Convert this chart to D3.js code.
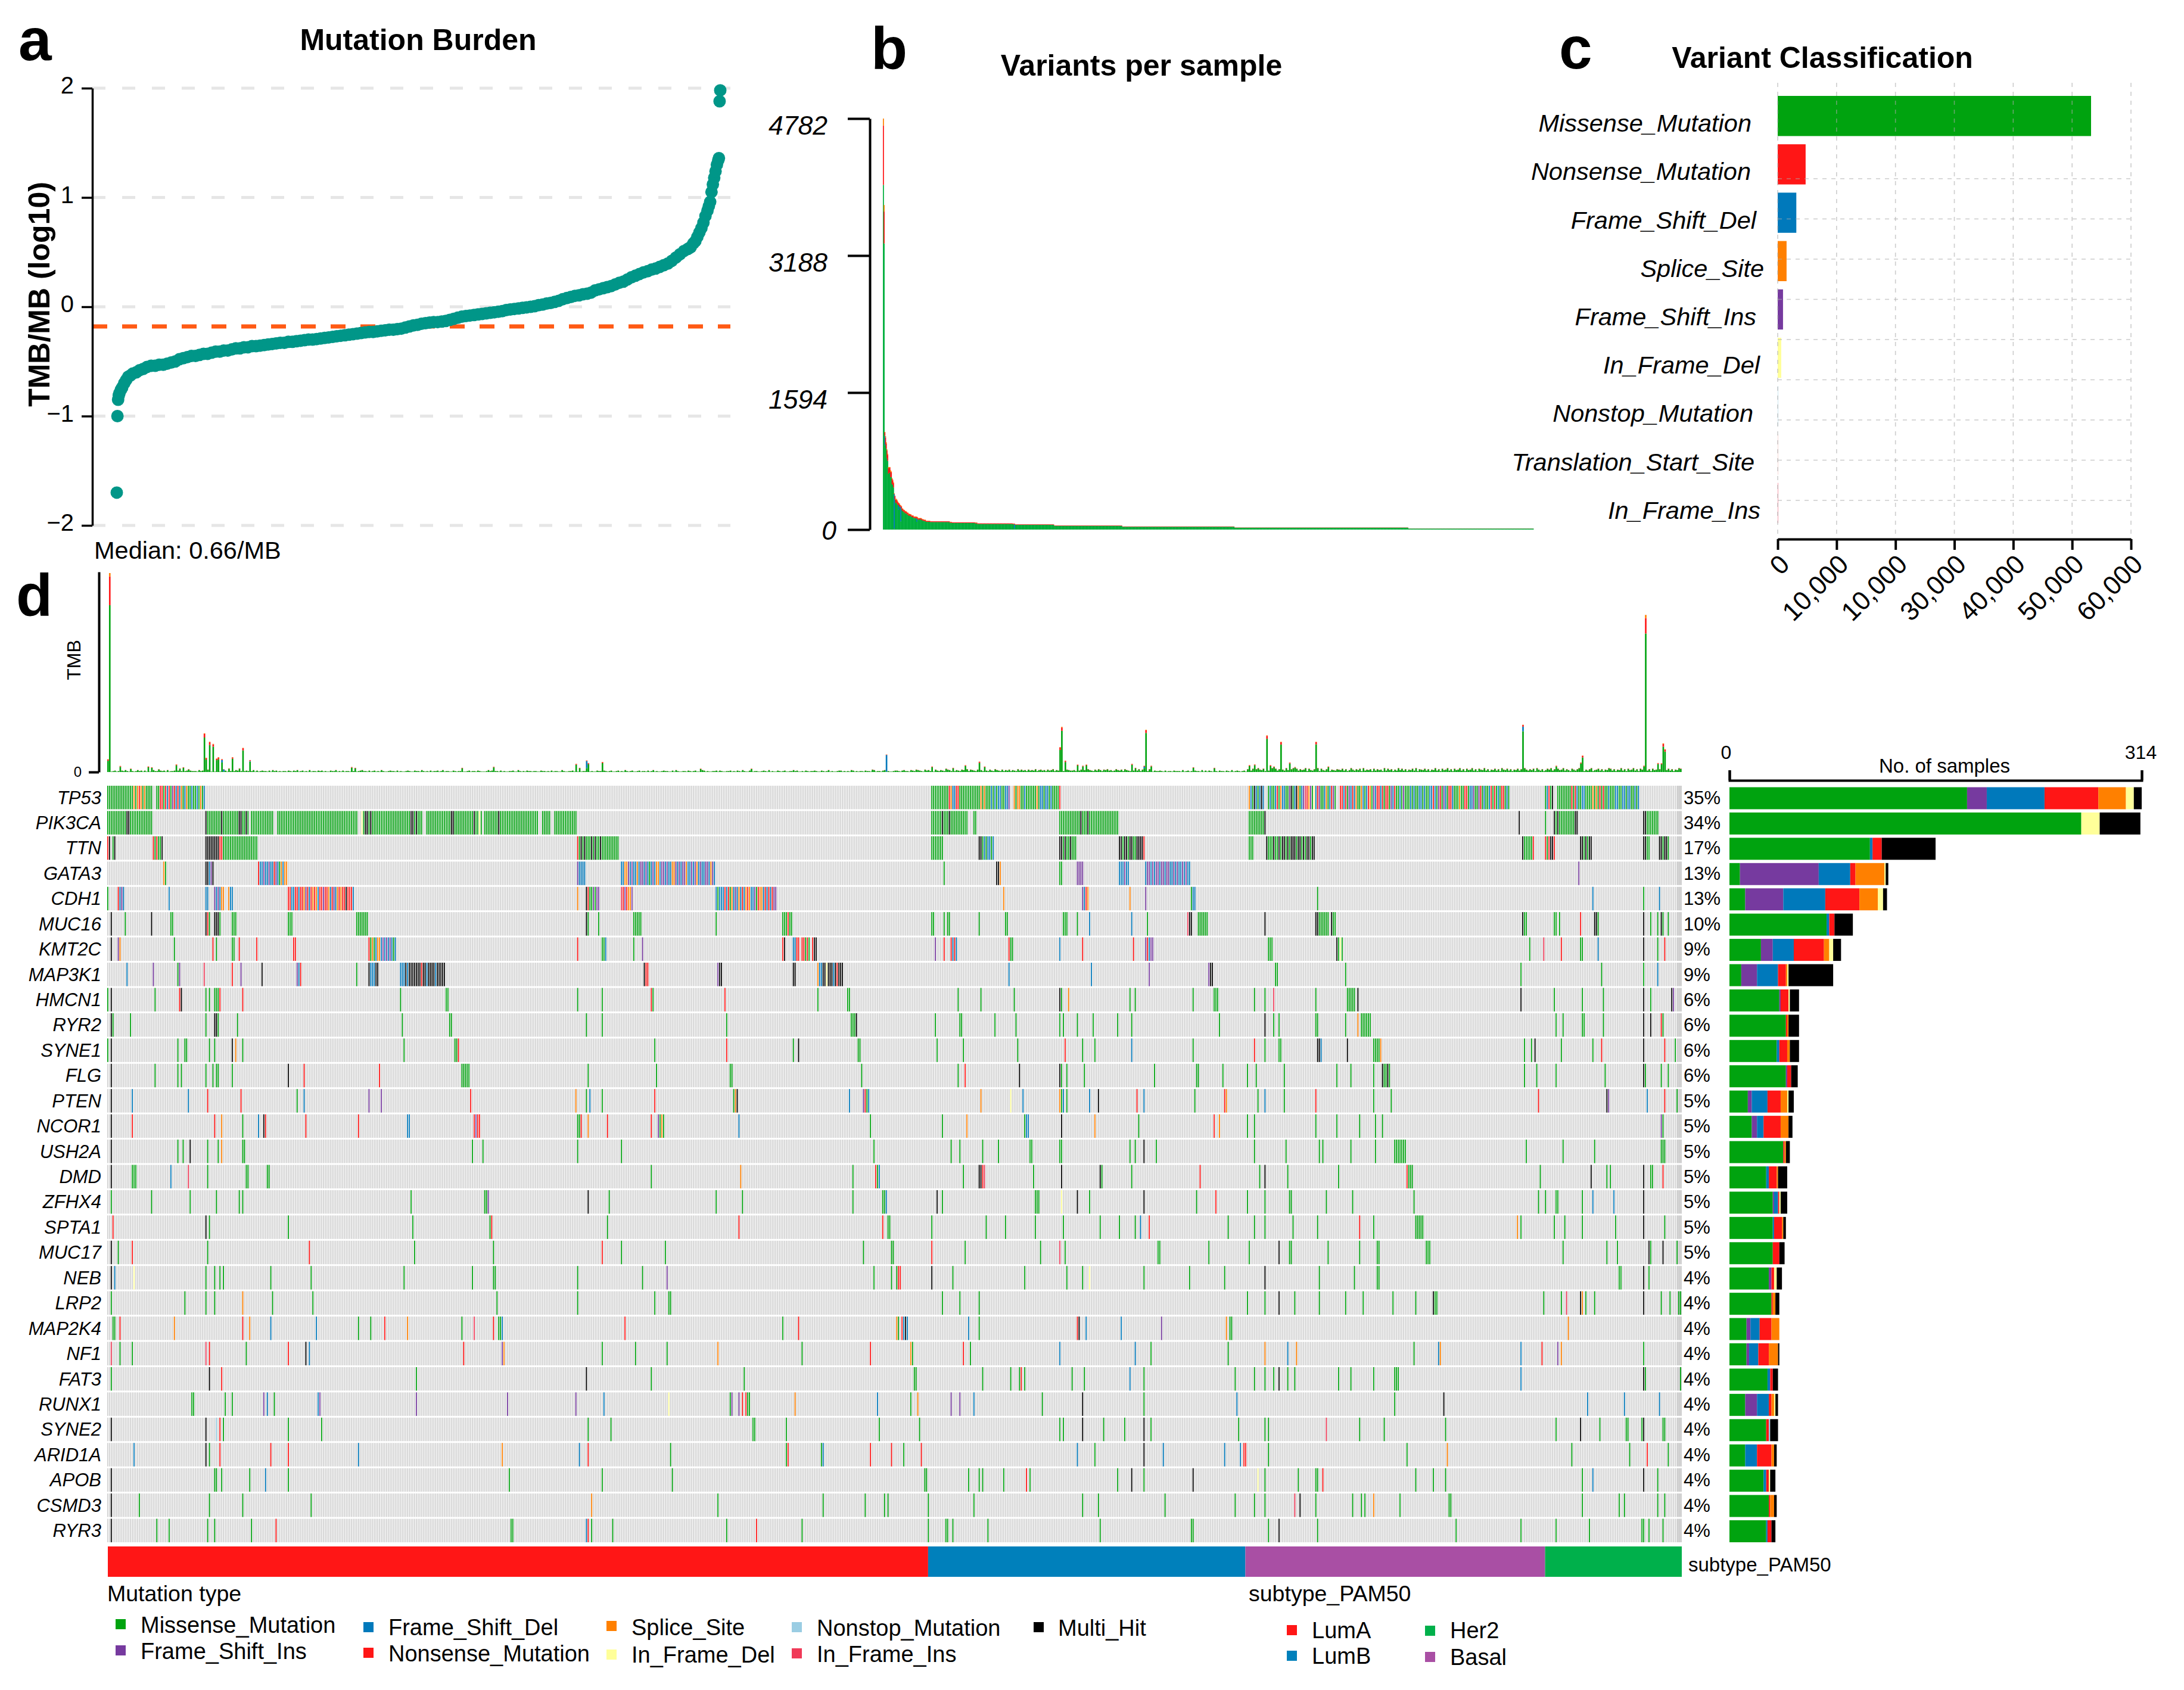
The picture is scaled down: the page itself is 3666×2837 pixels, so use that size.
<!DOCTYPE html>
<html>
<head>
<meta charset="utf-8">
<script src="https://cdn.jsdelivr.net/npm/d3@7"></script>
<style>
  body { margin: 0; background: #fff; }
  text { font-family: "Liberation Sans", Arial, sans-serif; fill: #000; }
</style>
</head>
<body>
<div id="Area"></div>
<script>
// panel a, sorted TMB (rank, log10 value)
var tmbRank = [1,2,3,4,5,7,9,12,15,18,21,25,30,35,40,46,52,58,64,70,76,82,88,94,100,106,112,118,124,130,136,142,148,154,160,166,172,178,184,190,196,202,208,214,220,226,232,238,244,250,256,262,268,274,280,286,292,298,304,310,316,322,328,334,340,346,352,358,364,370,376,382,388,394,400,406,412,418,424,430,436,442,448,454,460,466,472,478,484,490,496,502,508,514,520,526,532,538,544,550,556,562,568,574,580,586,592,598,604,610,616,622,628,634,640,646,652,658,664,670,676,682,688,694,700,706,712,718,724,730,736,742,748,754,760,766,772,778,784,790,796,802,808,814,820,826,832,838,844,850,854,858,861,864,867,870,873,876,879,881,883,885,887,889,891,893,895,896,897,898];
var tmbLog = [-1.70,-1.00,-.85,-.81,-.79,-.76,-.74,-.70,-.67,-.64,-.63,-.61,-.60,-.58,-.57,-.55,-.54,-.54,-.53,-.53,-.52,-.51,-.50,-.48,-.47,-.46,-.45,-.45,-.44,-.43,-.43,-.42,-.41,-.41,-.40,-.40,-.39,-.38,-.38,-.37,-.37,-.36,-.36,-.355,-.35,-.345,-.34,-.335,-.33,-.33,-.32,-.32,-.315,-.31,-.305,-.30,-.30,-.295,-.29,-.285,-.28,-.275,-.27,-.265,-.26,-.255,-.25,-.245,-.24,-.235,-.23,-.23,-.225,-.22,-.215,-.21,-.21,-.205,-.20,-.19,-.18,-.17,-.165,-.155,-.15,-.145,-.14,-.14,-.135,-.13,-.12,-.11,-.10,-.09,-.085,-.08,-.075,-.07,-.065,-.06,-.055,-.05,-.045,-.04,-.03,-.025,-.02,-.015,-.01,-.005,0,.005,.015,.02,.03,.035,.045,.055,.07,.08,.09,.10,.105,.115,.12,.13,.15,.16,.17,.18,.19,.205,.22,.23,.25,.27,.285,.30,.315,.325,.34,.35,.365,.38,.395,.42,.45,.48,.51,.53,.545,.58,.60,.64,.68,.72,.77,.83,.88,.92,.96,1.05,1.12,1.18,1.24,1.30,1.34,1.36,1.88,1.98];
var tmbMedian = -0.18;
var tmbTicks = [-2, -1, 0, 1, 2];

// panel b axis
var variantTicks = [0, 1594, 3188, 4782];

// panel c
var classNames = ["Missense_Mutation","Nonsense_Mutation","Frame_Shift_Del","Splice_Site","Frame_Shift_Ins","In_Frame_Del","Nonstop_Mutation","Translation_Start_Site","In_Frame_Ins"];
var classValues = [53220, 4742, 3162, 1506, 903, 602, 60, 50, 40];
var classCodes = ["M","N","D","S","I","E","T","X","F"];
var classTickValues = [0, 10000, 20000, 30000, 40000, 50000, 60000];
var classTickLabels = ["0","10,000","10,000","30,000","40,000","50,000","60,000"];

// panel d, genes and side bars
var genes = ["TP53","PIK3CA","TTN","GATA3","CDH1","MUC16","KMT2C","MAP3K1","HMCN1","RYR2","SYNE1","FLG","PTEN","NCOR1","USH2A","DMD","ZFHX4","SPTA1","MUC17","NEB","LRP2","MAP2K4","NF1","FAT3","RUNX1","SYNE2","ARID1A","APOB","CSMD3","RYR3"];
var genePct = ["35%","34%","17%","13%","13%","10%","9%","9%","6%","6%","6%","6%","5%","5%","5%","5%","5%","5%","5%","4%","4%","4%","4%","4%","4%","4%","4%","4%","4%","4%"];
var barM = [181,268,107,8,12,74,24,9,38,43,36,43,14,17,41,28,33,33,33,30,32,13,13,29,12,28,12,26,30,28];
var barI = [15,0,0,60,29,0,9,12,1,0,0,1,3,4,0,0,1,0,0,2,0,3,2,0,9,0,0,0,0,0];
var barD = [44,0,2,24,32,2,16,16,0,0,2,0,12,5,0,2,3,1,0,0,0,7,7,2,9,0,9,2,0,1];
var barN = [41,0,7,4,26,4,23,6,6,1,6,3,10,13,1,6,1,6,5,2,1,9,8,2,2,2,11,2,1,3];
var barS = [21,0,0,22,14,0,4,1,0,1,2,0,5,6,1,1,0,1,0,0,2,6,7,0,2,0,2,0,3,0];
var barE = [6,14,0,1,4,0,3,1,1,0,0,0,1,0,0,0,1,0,0,2,0,0,0,0,1,0,0,1,0,0];
var barT = [0,0,0,0,0,0,0,0,0,0,0,0,0,0,0,0,0,0,0,0,0,0,0,0,0,1,0,0,0,0];
var barH = [6,31,41,2,3,14,6,34,7,8,7,5,4,3,3,7,5,2,4,4,3,0,1,4,2,6,2,4,2,3];

// oncoplot cells: start column followed by the mutation code of each consecutive column
var cellsTP53 = "0MMMMMMMMMMMMMMMSMSNSMSMMMM 28MM 30NNMNDNMINDN 41DSMDSMMDMMDMSMD 470MMMMMMMMMMNSDDNNMMMMMMMMMMMMSMSMMMDMDMDDMMDDI 517SMSSMMDMMMMMMSMDDMDDMDMMMMN 651SDMHDMDHD 662MDMMDNMSDDMMIHMDHSMDIFNSIMEDNIMMDSMDNIM 703NNDNMIDNDSMMSDMDNSMIDNNDNMNNMIDNMMDMIMMMDMDMMDDMDMMDDNDMINMIDMNNDMMMSMMNNMDDIMMINMDMMDNMNMDMNNMDM 820MDNMH 827MMMMMMMMNMNDMMDDMMMMSMSMNMNMMDMMMDDMMDDMDDMMDMD";
var cellsPIK3CA = "0MMMMMMMMMMMHHMMMMMMMMMMMMM 56HMMMMMMMMHMMMMMMMMMHHMMHM 82MMMMMMMMMMMMM 97MMMMMMMMMMMMMMMMMMMMMMMMMMMMMMMMMMMMMMMMMMMMMM 145EMHHMHMMMMMMMMMMMMMMMMMMMMMMHHMHMMM 182MMMMMMMMMMMMMMHHMMMMMMMMMMMHMMEM 215MMMMMMMMHMMMMMMMMMMMMMMMMMMMMMM 248MMMMM 255MMMMMMMMMMMMM 470MMMMMMHMMMHMMMMMMMMMM 494MM 543MMMMMMMMMMMMHMMMHMMMMMMMMMMMMMMMMM 651MMMMMMMMMH 805H 820M 825HMHMMMMMMMMMHH 876HHMMMMMMM";
var cellsTTN = "0NH 3MH 26NMNMMH 56HHHHHHHHN 65NMMMMMMMMMMMMMMMMMMMM 268NMHMHMMMHMHMMHMMMMMMMMMM 470MMMMMMM 497HHMDMDDMD 543HHMHMMHMMM 577HHMHHMHHMMHHHHN 651MMM 661HMMMHMMHMHHMHMHHHMHHMHMHHMHH 807HMMMMMN 820NMNHHN 840HHMHMHH 876HHMM 885HHMHHM";
var cellsGATA3 = "32SM 56HHDIH 86NDDIDDIDDNIDMSDSS 268IDDDD 293DDSSIDIDDSDIIDIDMDIDSSDIIDIDDSSIDIDIISDDIDISDIDDIIDSID 477M 507HHS 543MM 553IIII 577DDDIDD 592DIIDIDIIDIIDIIDDIDIDDIDIDD 839I";
var cellsCDH1 = "0M 6NDID 35D 56DD 61IDIDSS 69SDD 103NNDDNNDNNSINDNSNSDNNINNSDNIDSNSNNHNNND 268S 273HNMMIMII 293FNINSSI 347DMDDDNDNMSDIDSDNDSNSDDIMNSSDNDNDNII 511S 556IDNS 583S 592I 618MDD 690M 847D 876M 885D";
var cellsMUC16 = "2H 10M 25H 36MM 56HNM 61HHHM 71MMM 103MMM 142MMMMMMM 273HM 280M 300MMMMM 347M 385MMMN 389MM 470MM 477M 479MM 497M 512MM 545MMM 553M 560D 584D 593M 616FHH 622MMMMMM 660H 689HHMMMMMM 698HMM 807HMM 825MM 828M 840N 848HHM 876H 880M 884M 886HM 890M";
var cellsKMT2C = "2H 6IS 38M 60N 62M 71MM 75N 85N 106NN 149NMSMDSSDIDIDIDMD 268N 282MMD 300M 305I 385NH 391DD 393NN 396NN 398MNM 402NHH 472I 477N 481NDND 514NMM 543D 556N 585N 592INDII 662MMM 701HMEM 811M 819F 829N 840MM 850D 876H 884M 888N";
var cellsMAP3K1 = "11D 26I 40MI 55F 71N 76I 88H 108IDN 142M 149HDDDHH 167DDDHD 172HHHHHHHNHHDHHHHDHHHHH 306HNN 348IHH 391HH 405SDDHHEHHHDHNHHH 514D 561D 594I 628IHH 666MM 706M 806M 852M 876M 884D";
var cellsHMCN1 = "0M 2H 27M 41NH 56M 58M 61MMMN 77N 167M 193MM 268M 282M 310NM 352N 405M 422MM 485M 498M 517M 543HM 548S 583M 586M 619M 631MMM 654M 660M 665F 689M 707MMMMM 713H 806H 825M 841M 853M 876H 880M 892HI";
var cellsRYR2 = "2HM 13M 56M 61HHM 74M 168M 195MM 273M 282M 353M 424MMMH 472M 486MM 506M 518M 543M 545M 553M 562M 576M 584M 634M 660H 665M 668M 689MM 706M 713S 715MMMMMM 826M 830M 841MM 853M 876H 880H 886NM";
var cellsSYNE1 = "0M 2H 40M 44MM 58M 61M 71H 73S 77M 169M 198MMN 312M 353N 391M 394H 428MM 473M 488M 519M 546N 556M 563M 584D 619M 654N 660M 668MM 690HHD 707H 722MMMMS 808M 812M 814H 829M 847M 852N 876H 888N 894M";
var cellsFLG = "2H 27M 40M 42M 56M 60M 62MM 71M 103H 112N 155N 202MMMMM 274M 313M 355MM 430M 485M 489N 520H 543HM 547M 557M 597M 621MM 636M 650M 655M 671M 701M 709M 722M 727HMMHM 808M 815M 826M 854M 876HM 886M 890M";
var cellsPTEN = "2H 14D 46D 57N 76N 108M 112D 149I 156I 207N 267S 273M 275D 282M 312N 357MSH 423D 431INMD 498S 515E 522D 543SMD 547M 560D 565H 587N 591D 620M 637NS 656M 660D 671M 689N 722M 732M 816N 855HI 878D 888N 895M";
var cellsNCOR1 = "2H 14N 61N 65S 77M 86D 89HN 113N 143N 171DD 209NINN 268MMN 274S 285N 310N 314IMSM 360D 435M 476M 490S 523MDD 544H 563S 588M 631N 634S 650M 654M 689M 701M 714M 723M 727M 886IM";
var cellsUSH2A = "2H 40M 43M 47H 57M 63M 65S 77MM 208M 214M 268M 293M 437M 481M 486M 499M 508M 526MM 543MM 583M 586M 591H 598M 654M 672M 691M 693M 709M 723M 734MMMMMMM 809M 830M 848M 886MMM";
var cellsDMD = "2H 14MMM 36D 46F 57M 79MM 91MM 310M 361S 425M 438NMD 488M 497HHNF 528M 544H 566HM 584M 623N 657M 660H 673M 702M 741NMMM 817M 846H 855M 857M 876H 880MM 887N";
var cellsZFHX4 = "2M 25M 47M 62M 75M 77M 173M 215MMI 274H 286M 347M 362M 425M 442MMD 473H 476M 529MMM 544E 553H 560M 591H 621M 632N 650M 660M 674MM 695M 710M 745M 816M 820M 826MM 841M 847D 859D 876H";
var cellsSPTA1 = "3N 56H 58M 103M 174M 218MN 285M 360N 442N 445MM 470M 501M 512M 529M 545M 566M 577M 586M 589D 594N 639M 654M 660M 676M 690M 714N 722M 746MMMMM 804S 806M 825M 831M 841M 860M 876H 888M";
var cellsMUC17 = "2H 6M 14N 57M 115N 175M 220M 282N 293M 318M 431M 447MM 470N 489M 532M 543F 546M 599MM 628M 651M 668H 674MM 696M 714M 724MM 752MMM 830M 855M 861M 879HM 887H 895M";
var cellsNEB = "2H 4D 15E 56M 61M 64M 66M 93M 116M 169M 208M 220MM 268M 305M 319I 437M 447M 450MNN 470H 482M 523M 547M 556M 560E 591M 617M 637M 660H 691M 711M 724MM 862MM 876H 879M";
var cellsLRP2 = "2M 44M 56M 61M 77S 94M 117M 222M 268M 312M 320MM 476M 486M 497M 650M 660M 668H 677M 691M 706M 716M 733M 746M 756HMM 819M 829M 832F 840HS 843M 848M 876H 886M 891M 896MM";
var cellsMAP2K4 = "3MM 7N 38S 77N 81S 93D 119D 143M 150M 158N 171S 202M 209F 220N 223MMD 295N 385M 394N 450SM 453NDHD 491D 497M 553NH 558D 578D 601I 638S 640MM 833S";
var cellsNF1 = "2F 7M 14M 56F 58N 79M 103N 113H 115D 203N 225IS 282M 301M 319M 348S 396M 435N 458SM 488N 492M 543D 586D 595M 639M 660S 673D 678S 745M 759DS 806D 818N 827I 829S 876M";
var cellsFAT3 = "2M 58H 65N 176M 273H 310M 363M 460MM 499M 515M 520MN 523M 550M 557M 583D 591M 643M 654M 660M 665M 668H 673M 677M 702M 709M 722M 734MMM 806D 876HM 897M";
var cellsRUNX1 = "48MM 67M 71M 89I 91D 95M 120DI 176I 228I 267I 283D 320E 355MI 360I 362N 364NMM 392S 439D 458M 462S 481I 486I 494D 533M 556H 591M 644D 734M 762H 844D 865D 885D";
var cellsSYNE2 = "2H 56H 62T 64N 66M 103M 122M 274M 287M 368MM 387M 440M 463M 543M 545M 556H 568M 580M 591H 595M 645M 660M 662M 695F 714M 728M 763M 826M 840H 851M 866MM 875MH 887MM";
var cellsARID1A = "15D 56H 58M 64N 93N 103N 143D 225S 269D 274N 321M 387MN 407MD 435N 447N 454M 464N 553D 563M 591H 602D 637D 646D 648NN 662M 741M 764S 835M 868M 878N 890M";
var cellsAPOB = "2H 61MM 65M 81M 90D 103M 229M 282M 322M 466MM 491M 497M 499M 511M 524N 526M 576M 584H 591M 619H 656E 660M 679M 689MM 693N 746M 756M 763M 841M 847D 876H 884M";
var cellsCSMD3 = "2H 18M 58M 77M 116M 276S 348M 408M 432M 443M 445M 468M 494M 556M 565M 603M 643M 654M 660M 677F 680H 689M 710M 715M 717M 722S 737M 765MM 841M 862M 865M 884M 888M";
var cellsRYR3 = "2H 28M 35M 57M 61M 82M 96N 230MM 273DN 276M 288M 353M 370N 396M 468M 478MM 482M 502M 566M 618MM 662M 668H 690M 769M 806M 826M 845M 875MM 879M 887M";

// TMB bar per column: low bars as digits in units of 12 variants, tall ones listed below
var tmbLow = "32123121324213212423131211422132314122313121231322" +
  "21423135213142122313212431212321241312322131423121" +
  "22132132412312141221323121132241213122132112342213" +
  "12312142112322131211232113221421213122312412211321" +
  "22311231221321112423122131211223114212132212211322" +
  "12131221142112231213122141211322132123112312142123" +
  "11231221312412112322113142112213212311243121122313" +
  "21122312132142113212211232141211321231122423112132" +
  "12232113212412112331212143121221322154122134121123" +
  "32134221432543215342615324327542324325436254325342" +
  "43253264325243524326353425343624534253462435326543" +
  "34263534264325364254634236435264325343625342641322" +
  "32131221322214123121322141313212213221321412321231" +
  "65374685472536847362538436827364582743658274368254" +
  "36547362485364728354627364528374625384736254738265" +
  "47362548362745836274583627458362754836254736285473" +
  "62547362853647285362475836274583642753684725368245" +
  "736254873625483627458362754836274536285473625487";
var spikeCol = [0,1,7,13,23,25,29,39,41,43,46,55,56,58,60,62,63,65,66,69,71,75,77,81,139,141,202,220,267,269,273,274,282,338,367,444,470,482,489,497,500,543,544,546,553,556,558,584,586,591,592,595,619,631,651,654,661,663,665,669,674,677,689,696,807,826,840,841,876,877,884,886,887,888];
var spikeM = [270,4010,125,72,115,100,62,160,80,100,60,830,300,650,610,285,310,230,12,80,320,80,520,250,105,90,90,112,175,90,95,190,215,72,72,10,118,90,148,220,118,530,990,240,158,135,158,175,90,90,940,135,100,90,145,165,800,145,118,660,205,108,665,118,980,135,205,350,135,3329,192,185,610,490];
var spikeD = [0,0,0,0,0,0,0,0,0,0,0,0,0,0,0,0,0,60,50,0,0,0,0,15,0,0,0,0,0,0,170,0,0,0,0,400,0,0,0,0,0,0,0,0,0,0,0,0,0,40,0,0,0,0,0,0,0,0,0,0,0,0,0,0,110,0,0,0,0,0,0,0,0,0];
var spikeN = [30,690,15,8,14,12,6,18,8,12,8,90,35,65,55,33,38,18,6,8,30,8,52,20,12,10,10,12,18,10,11,22,22,8,8,8,12,10,14,25,13,60,80,28,16,14,16,18,10,15,62,14,12,10,17,16,70,17,13,58,20,10,55,13,40,14,20,40,15,371,20,20,65,50];
var spikeS = [7,82,7,3,5,3,2,7,2,3,2,13,10,13,12,8,10,5,2,2,8,2,9,3,4,2,2,4,5,2,5,5,6,3,3,4,4,2,4,5,3,10,16,7,5,4,5,5,2,5,14,4,3,2,4,4,12,4,3,10,5,3,8,3,7,4,5,6,3,76,5,5,15,10];

// subtype bar
var subtypeNames = ["LumA","LumB","Basal","Her2"];
var subtypeSizes = [468, 181, 171, 78];

// legends
var mutLegendNames = ["Missense_Mutation","Frame_Shift_Ins","Frame_Shift_Del","Nonsense_Mutation","Splice_Site","In_Frame_Del","Nonstop_Mutation","In_Frame_Ins","Multi_Hit"];
var mutLegendCodes = ["M","I","D","N","S","E","T","F","H"];
var subLegendNames = ["LumA","LumB","Her2","Basal"];

// colours
var mutColor = {M:"#00A30F", N:"#FF1616", D:"#0079BB", S:"#FF8000", I:"#763A9F", E:"#FFFF99", T:"#9ACDE3", F:"#F03A58", H:"#000000", X:"#F4B6B0"};
var subColor = {LumA:"#FF1616", LumB:"#0080BB", Basal:"#A94FA4", Her2:"#00B04B"};

var svg = d3.select("#Area").append("svg").attr("width", 3666).attr("height", 2837);

function label(x, y, s, size, anchor, weight, italic) {
  return svg.append("text")
    .attr("x", x).attr("y", y)
    .attr("dy", "0.35em")
    .attr("text-anchor", anchor || "start")
    .style("font-size", size + "px")
    .style("font-weight", weight || "normal")
    .style("font-style", italic ? "italic" : "normal")
    .text(s);
}
function axisStyle(g, w) {
  g.selectAll("path.domain").attr("stroke", "#000").attr("stroke-width", w);
  g.selectAll(".tick line").attr("stroke", "#000").attr("stroke-width", w);
}

//------ panel letters and titles
label(31, 66, "a", 100, "start", "bold");
label(1462, 81, "b", 100, "start", "bold");
label(2617, 80, "c", 100, "start", "bold");
label(27, 999, "d", 100, "start", "bold");
label(702, 66, "Mutation Burden", 50, "middle", "bold");
label(1916, 109, "Variants per sample", 50, "middle", "bold");
label(3059, 96, "Variant Classification", 50, "middle", "bold");

//------ panel a
var ax = d3.scaleLinear().domain([1, 898]).range([196, 1209]);
var ay = d3.scaleLinear().domain([-2, 2]).range([882, 148]);

svg.append("g").selectAll("line").data(tmbTicks).join("line")
  .attr("x1", 155).attr("x2", 1226)
  .attr("y1", function(d) { return ay(d); }).attr("y2", function(d) { return ay(d); })
  .attr("stroke", "#E6E6E6").attr("stroke-width", 5).attr("stroke-dasharray", "22 28");

svg.append("line")
  .attr("x1", 155).attr("x2", 1226).attr("y1", ay(tmbMedian)).attr("y2", ay(tmbMedian))
  .attr("stroke", "#FF5A14").attr("stroke-width", 7).attr("stroke-dasharray", "25 25");

svg.append("g").selectAll("circle").data(tmbRank).join("circle")
  .attr("cx", function(d) { return ax(d); })
  .attr("cy", function(d, i) { return ay(tmbLog[i]); })
  .attr("r", 10.5)
  .attr("fill", "#009688");

var aAxis = svg.append("g").attr("transform", "translate(155,0)")
  .call(d3.axisLeft(ay).tickValues(tmbTicks).tickSize(18).tickSizeOuter(0).tickPadding(13).tickFormat(d3.format("d")));
axisStyle(aAxis, 3.5);
aAxis.selectAll("text").style("font-size", "40px").attr("y", -4);

label(65, 494, "TMB/MB (log10)", 50, "middle", "bold").attr("transform", "rotate(-90 65 494)");
label(158, 923, "Median: 0.66/MB", 41.5);

//------ sample table shared by panels b and d
var samples = d3.range(898).map(function(c) {
  return {col: c, M: +tmbLow[c] * 11, D: 0, N: +tmbLow[c], S: 0};
});
spikeCol.forEach(function(c, i) {
  samples[c].M = spikeM[i];
  samples[c].D = spikeD[i];
  samples[c].N = spikeN[i];
  samples[c].S = spikeS[i];
});
var stackKeys = ["M", "D", "N", "S"];
var series = d3.stack().keys(stackKeys)(samples);

//------ panel b
var sorted = samples.slice().sort(function(p, q) {
  return (q.M + q.D + q.N + q.S) - (p.M + p.D + p.N + p.S);
});
var rankOf = {};
sorted.forEach(function(d, i) { rankOf[d.col] = i; });
var bx = d3.scaleBand().domain(d3.range(898)).range([1482, 2574]);
var by = d3.scaleLinear().domain([0, 4782]).range([889, 199]);

svg.append("g").selectAll("g").data(series).join("g")
  .attr("fill", function(s) { return s.key == "M" ? "#00AE3C" : mutColor[s.key]; })
  .selectAll("rect").data(function(s) { return s; }).join("rect")
  .attr("x", function(d) { return bx(rankOf[d.data.col]); })
  .attr("width", bx.bandwidth() + 0.5)
  .attr("y", function(d) { return by(d[1]); })
  .attr("height", function(d) { return by(d[0]) - by(d[1]); });

var bAxis = svg.append("g").attr("transform", "translate(1460,0)")
  .call(d3.axisLeft(by).tickValues(variantTicks).tickSize(37).tickSizeOuter(0).tickPadding(34).tickFormat(d3.format("d")));
axisStyle(bAxis, 4);
bAxis.selectAll("text")
  .style("font-size", "44.5px").style("font-style", "italic")
  .attr("y", function(d) { return d == 0 ? 2 : 12; })
  .attr("x", function(d) { return d == 0 ? -56 : -71; });

//------ panel c
var cx = d3.scaleLinear().domain([0, 60000]).range([2984, 3577]);
var cy = d3.scaleBand().domain(classNames).range([161, 878]).paddingInner(0.17);
var cGridY = d3.scaleLinear().domain([0, 8]).range([300, 840]);
var cLabelRight = [2940, 2939, 2948, 2961, 2948, 2954, 2943, 2945, 2955];

svg.append("g").selectAll("rect").data(classNames).join("rect")
  .attr("x", cx(0))
  .attr("y", function(d) { return cy(d); })
  .attr("height", cy.bandwidth())
  .attr("width", function(d, i) { return Math.max(cx(classValues[i]) - cx(0), 1); })
  .attr("fill", function(d, i) { return mutColor[classCodes[i]]; })
  .attr("opacity", function(d, i) { return classValues[i] < 100 ? 0.5 : 1; });

svg.append("g").selectAll("line").data(classTickValues).join("line")
  .attr("x1", function(d) { return cx(d); }).attr("x2", function(d) { return cx(d); })
  .attr("y1", 139).attr("y2", 905)
  .attr("stroke", "#AAAAAA").attr("stroke-opacity", 0.6).attr("stroke-width", 1.6).attr("stroke-dasharray", "7 8");
svg.append("g").selectAll("line").data(d3.range(9)).join("line")
  .attr("x1", cx(0)).attr("x2", cx(60000))
  .attr("y1", function(d) { return cGridY(d); }).attr("y2", function(d) { return cGridY(d); })
  .attr("stroke", "#AAAAAA").attr("stroke-opacity", 0.6).attr("stroke-width", 1.6).attr("stroke-dasharray", "7 8");

classNames.forEach(function(n, i) {
  label(cLabelRight[i], cy(n) + cy.bandwidth() / 2 + 12, n, 41.5, "end", "normal", true);
});

var cAxis = svg.append("g").attr("transform", "translate(0,905)")
  .call(d3.axisBottom(cx).tickValues(classTickValues).tickSize(18).tickSizeOuter(0)
    .tickFormat(function(d, i) { return classTickLabels[i]; }));
axisStyle(cAxis, 4);
cAxis.selectAll("text")
  .style("font-size", "44px")
  .attr("text-anchor", "end")
  .attr("x", 0).attr("y", 0).attr("dy", "0.35em")
  .attr("transform", "translate(11,34) rotate(-45)");

//------ panel d, TMB bars
var dx = d3.scaleBand().domain(d3.range(898)).range([180, 2823]);
var dTop = d3.scaleLinear().domain([0, 4782]).range([1296, 962]);
var colW = 1.75;

svg.append("g").selectAll("g").data(series).join("g")
  .attr("fill", function(s) { return mutColor[s.key]; })
  .selectAll("rect").data(function(s) { return s; }).join("rect")
  .attr("x", function(d) { return dx(d.data.col); })
  .attr("width", dx.bandwidth() - 0.3)
  .attr("y", function(d) { return dTop(d[1]); })
  .attr("height", function(d) { return dTop(d[0]) - dTop(d[1]); });

var dAxis = svg.append("g").attr("transform", "translate(166,0)")
  .call(d3.axisLeft(d3.scaleLinear().domain([0, 4782]).range([1296, 960])).tickValues([0]).tickSize(17).tickSizeOuter(0).tickPadding(12));
axisStyle(dAxis, 4);
dAxis.selectAll("text").style("font-size", "24px");
label(124, 1108, "TMB", 32, "middle").attr("transform", "rotate(-90 124 1108)");

//------ panel d, oncoplot
var geneCells = [cellsTP53,cellsPIK3CA,cellsTTN,cellsGATA3,cellsCDH1,cellsMUC16,cellsKMT2C,cellsMAP3K1,cellsHMCN1,cellsRYR2,cellsSYNE1,cellsFLG,cellsPTEN,cellsNCOR1,cellsUSH2A,cellsDMD,cellsZFHX4,cellsSPTA1,cellsMUC17,cellsNEB,cellsLRP2,cellsMAP2K4,cellsNF1,cellsFAT3,cellsRUNX1,cellsSYNE2,cellsARID1A,cellsAPOB,cellsCSMD3,cellsRYR3];
var dy = d3.scaleBand().domain(genes).range([1319, 2589]).paddingInner(0.07);

var cells = [];
geneCells.forEach(function(str, g) {
  str.split(" ").forEach(function(tok) {
    var m = tok.match(/^(\d+)([A-Z]+)$/);
    m[2].split("").forEach(function(code, k) {
      cells.push({gene: genes[g], col: +m[1] + k, code: code});
    });
  });
});

// grey column stripes of every row, the last few columns run together
var grid = svg.append("g").attr("fill", "#D0D0D0");
genes.forEach(function(g) {
  grid.append("g").selectAll("rect").data(d3.range(898)).join("rect")
    .attr("x", function(c) { return dx(c); })
    .attr("y", dy(g))
    .attr("width", function(c) { return c >= 895 ? dx.bandwidth() : colW; })
    .attr("height", dy.bandwidth());
});

svg.append("g").selectAll("rect").data(cells).join("rect")
  .attr("x", function(d) { return dx(d.col); })
  .attr("y", function(d) { return dy(d.gene); })
  .attr("width", colW)
  .attr("height", dy.bandwidth())
  .attr("fill", function(d) { return mutColor[d.code]; });

genes.forEach(function(g, i) {
  label(170, dy(g) + dy.bandwidth() / 2, g, 31, "end", "normal", true);
  label(2826, dy(g) + dy.bandwidth() / 2, genePct[i], 31);
});

//------ panel d, side bars
var rx = d3.scaleLinear().domain([0, 314]).range([2903, 3595]);
var rowTable = genes.map(function(g, i) {
  return {gene: g, M: barM[i], I: barI[i], D: barD[i], N: barN[i], S: barS[i], E: barE[i], T: barT[i], H: barH[i]};
});
var rowSeries = d3.stack().keys(["M","I","D","N","S","E","T","H"])(rowTable);

svg.append("g").selectAll("g").data(rowSeries).join("g")
  .attr("fill", function(s) { return mutColor[s.key]; })
  .selectAll("rect").data(function(s) { return s; }).join("rect")
  .attr("x", function(d) { return rx(d[0]); })
  .attr("width", function(d) { return rx(d[1]) - rx(d[0]); })
  .attr("y", function(d) { return dy(d.data.gene) + 2.5; })
  .attr("height", dy.bandwidth() - 2.5);

var rAxis = svg.append("g").attr("transform", "translate(0,1310)")
  .call(d3.axisTop(rx).tickValues([0, 314]).tickSize(17).tickPadding(19));
axisStyle(rAxis, 4);
rAxis.selectAll("text").style("font-size", "32px")
  .attr("x", function(d) { return d == 0 ? -6 : -2; });
label(3264, 1285, "No. of samples", 33, "middle");

//------ subtype bar
var subX = d3.scaleLinear().domain([0, 898]).range([181, 2823]);
var subStart = d3.cumsum([0].concat(subtypeSizes));
svg.append("g").selectAll("rect").data(subtypeNames).join("rect")
  .attr("x", function(d, i) { return subX(subStart[i]); })
  .attr("width", function(d, i) { return subX(subStart[i + 1]) - subX(subStart[i]); })
  .attr("y", 2596).attr("height", 51)
  .attr("fill", function(d) { return subColor[d]; });
label(2834, 2626, "subtype_PAM50", 33);

//------ legends
var mutSwatchX = [194, 194, 610, 610, 1018, 1018, 1329, 1329, 1735];
var mutSwatchY = [2718, 2762, 2723, 2766, 2721, 2769, 2723, 2767, 2723];
var mutTextX = [236, 236, 652, 652, 1060, 1060, 1371, 1371, 1776];
var mutTextY = [2728, 2772, 2732, 2776, 2732, 2778, 2733, 2777, 2733];
label(180, 2675, "Mutation type", 37.5);
mutLegendNames.forEach(function(n, i) {
  svg.append("rect").attr("x", mutSwatchX[i]).attr("y", mutSwatchY[i]).attr("width", 17).attr("height", 17)
    .attr("fill", mutColor[mutLegendCodes[i]]);
  label(mutTextX[i], mutTextY[i], n, 38);
});

var subSwatchX = [2160, 2160, 2392, 2392];
var subSwatchY = [2728, 2771, 2729, 2773];
var subTextX = [2202, 2202, 2434, 2434];
var subTextY = [2737, 2780, 2737, 2782];
label(2096, 2675, "subtype_PAM50", 37.5);
subLegendNames.forEach(function(n, i) {
  svg.append("rect").attr("x", subSwatchX[i]).attr("y", subSwatchY[i]).attr("width", 17).attr("height", 17)
    .attr("fill", subColor[n]);
  label(subTextX[i], subTextY[i], n, 38);
});
</script>
</body>
</html>
